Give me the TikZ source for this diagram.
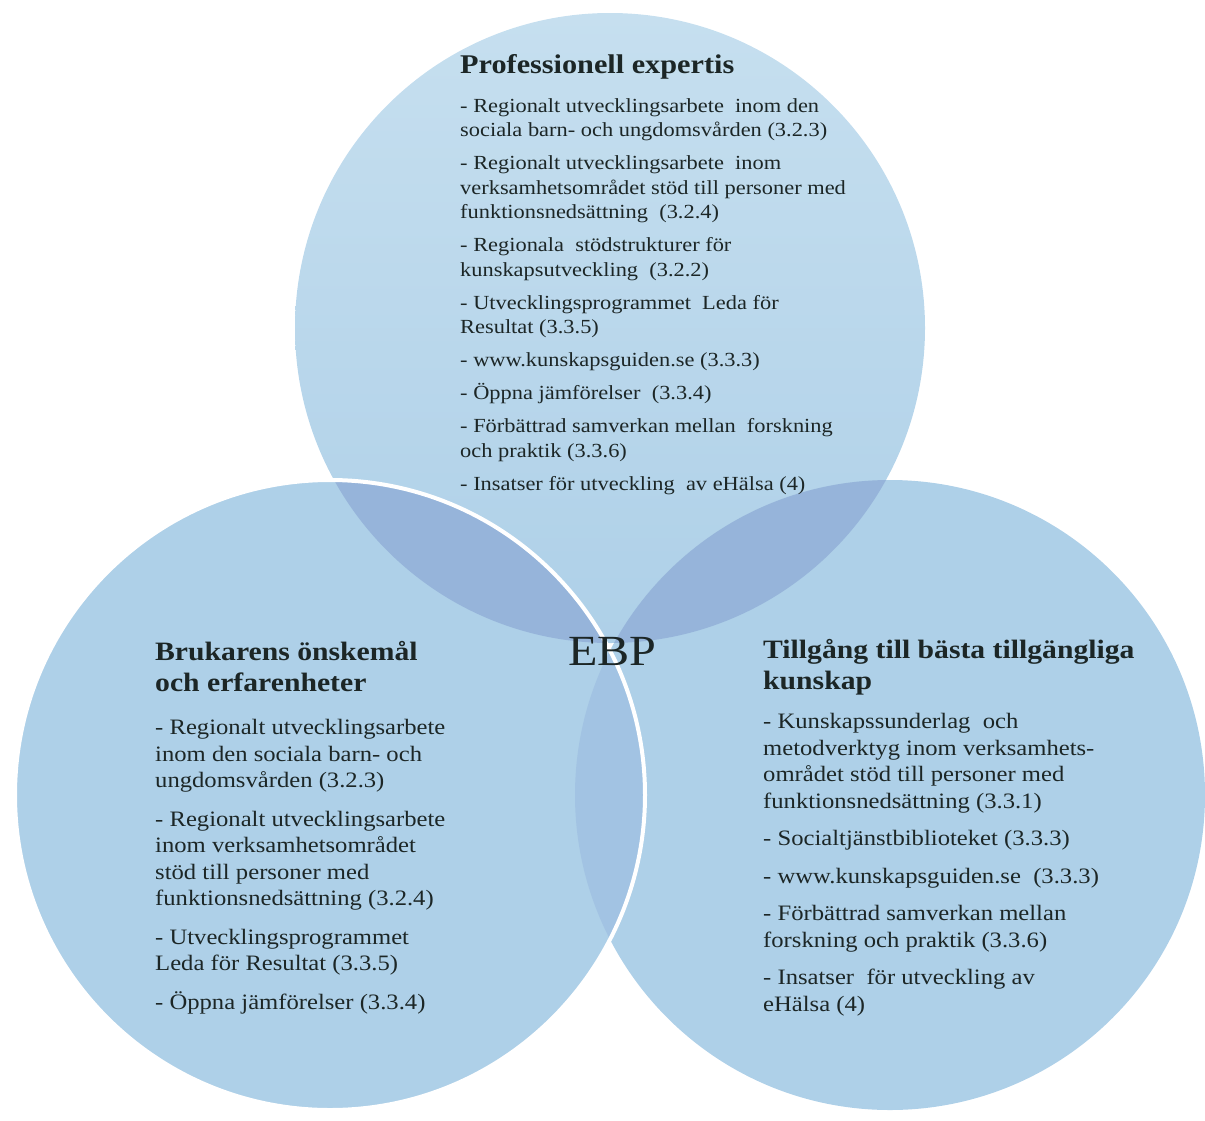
\documentclass[tikz,border=0pt]{standalone}
\usepackage{fontspec}
\setmainfont{Liberation Serif}[FakeStretch=1.12]
\definecolor{circfill}{RGB}{174,208,232}
\definecolor{circtop}{RGB}{198,223,239}
\definecolor{lensdark}{RGB}{150,180,218}
\definecolor{lenslight}{RGB}{162,195,227}
\definecolor{textdark}{RGB}{28,38,38}

\begin{document}
\begin{tikzpicture}[x=1pt,y=-1pt,
    circtitle/.style={anchor=base west,inner sep=0,align=left,text=textdark,
      font=\bfseries\fontsize{26.5}{30.5}\selectfont},
    circlist/.style={anchor=base west,inner sep=0,align=left,text=textdark,
      font=\fontsize{22}{26.5}\selectfont}]
  \useasboundingbox (0,0) rectangle (1205,1120);

  %%%%% circles %%%%%
  \coordinate (ctop) at (610,328);
  \coordinate (cleft) at (330,795);
  \coordinate (cright) at (890,795);
  \def\rad{315}

  \shade[top color=circtop,bottom color=circfill] (ctop) circle (\rad);
  \fill[circfill] (cright) circle (\rad);
  \fill[circfill] (cleft) circle (\rad);

  \begin{scope}
    \clip (ctop) circle (\rad);
    \fill[lensdark] (cleft) circle (\rad);
    \fill[lensdark] (cright) circle (\rad);
  \end{scope}
  \begin{scope}
    \clip (cleft) circle (\rad);
    \fill[lenslight] (cright) circle (\rad);
  \end{scope}
  \draw[white,line width=4] (cleft) circle (\rad);

  %%%%% texts (placed at the baseline of their last line) %%%%%
  \node[circtitle,font=\bfseries\fontsize{27}{32}\selectfont] (toptitle) at (460,73) {Professionell expertis};
  \node[circlist,font=\fontsize{20}{24.5}\selectfont] (toplist) at (460,490) {%
    - Regionalt utvecklingsarbete\ \ inom den\\
    sociala barn- och ungdomsvården (3.2.3)\\[8.5pt]
    - Regionalt utvecklingsarbete\ \ inom\\
    verksamhetsområdet stöd till personer med\\
    funktionsnedsättning\ \ (3.2.4)\\[8.5pt]
    - Regionala\ \ stödstrukturer för\\
    kunskapsutveckling\ \ (3.2.2)\\[8.5pt]
    - Utvecklingsprogrammet\ \ Leda för\\
    Resultat (3.3.5)\\[8.5pt]
    - www.kunskapsguiden.se (3.3.3)\\[8.5pt]
    - Öppna jämförelser\ \ (3.3.4)\\[8.5pt]
    - Förbättrad samverkan mellan\ \ forskning\\
    och praktik (3.3.6)\\[8.5pt]
    - Insatser för utveckling\ \ av eHälsa (4)};

  \node[circtitle] (lefttitle) at (155,691) {Brukarens önskemål\\och erfarenheter};
  \node[circlist] (leftlist) at (155,1009) {%
    - Regionalt utvecklingsarbete\\
    inom den sociala barn- och\\
    ungdomsvården (3.2.3)\\[12pt]
    - Regionalt utvecklingsarbete\\
    inom verksamhetsområdet\\
    stöd till personer med\\
    funktionsnedsättning (3.2.4)\\[12pt]
    - Utvecklingsprogrammet\\
    Leda för Resultat (3.3.5)\\[12pt]
    - Öppna jämförelser (3.3.4)};

  \node[circtitle] (righttitle) at (763,689) {Tillgång till bästa tillgängliga\\kunskap};
  \node[circlist] (rightlist) at (763,1011) {%
    - Kunskapssunderlag\ \ och\\
    metodverktyg inom verksamhets-\\
    området stöd till personer med\\
    funktionsnedsättning (3.3.1)\\[11pt]
    - Socialtjänstbiblioteket (3.3.3)\\[11pt]
    - www.kunskapsguiden.se\ \ (3.3.3)\\[11pt]
    - Förbättrad samverkan mellan\\
    forskning och praktik (3.3.6)\\[11pt]
    - Insatser\ \ för utveckling av\\
    eHälsa (4)};

  \node[anchor=base west,inner sep=0,text=textdark,font=\fontsize{43}{48}\selectfont] (ebp) at (568,665) {EBP};
\end{tikzpicture}
\end{document}
